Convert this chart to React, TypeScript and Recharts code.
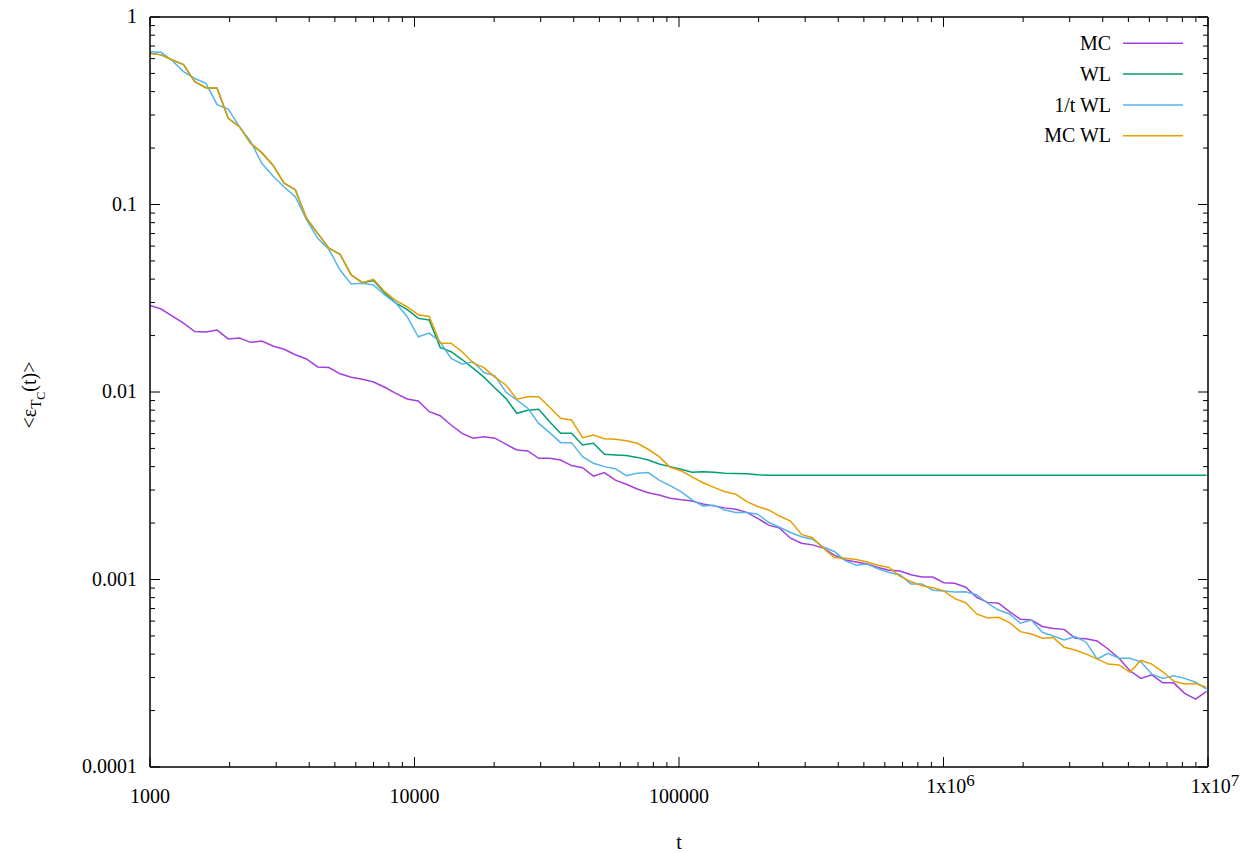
import React from "react";
import { LineChart, Line, XAxis, YAxis } from "recharts";

const tValues = [
  1000, 1102, 1215, 1339, 1476, 1627, 1793, 1976, 2178, 2401,
  2646, 2916, 3214, 3543, 3905, 4304, 4744, 5229, 5763, 6352,
  7002, 7717, 8506, 9375, 10334, 11367, 12504, 13754, 15130, 16643,
  18307, 20138, 22152, 24367, 26804, 29484, 32432, 35675, 39243, 43167,
  47484, 52232, 57455, 63201, 69521, 76473, 84120, 92532, 101785, 111964,
  123160, 135476, 149024, 163926, 180319, 198351, 218186, 240005, 264006, 290406,
  319447, 351392, 386531, 425184, 467702, 514472, 565919, 622511, 684762, 753238,
  828562, 911418, 1002560, 1102816, 1213098, 1334408, 1467849, 1614634, 1776097, 1953707,
  2149078, 2363986, 2600384, 2860423, 3146465, 3461112, 3807223, 4187945, 4606740, 5067414,
  5574155, 6131571, 6744728, 7419201, 8161121, 8977233, 9875000,
];

const mc = [
  0.0289, 0.0277, 0.0254, 0.0233, 0.021, 0.0209, 0.0214, 0.0192, 0.0194, 0.0184,
  0.0187, 0.0176, 0.0169, 0.0158, 0.015, 0.0136, 0.0135, 0.0125, 0.012, 0.0117,
  0.0113, 0.0106, 0.00984, 0.00918, 0.00895, 0.00785, 0.00747, 0.00667, 0.00602, 0.00567,
  0.00578, 0.00567, 0.00527, 0.00491, 0.00485, 0.00443, 0.00443, 0.00434, 0.00405, 0.00395,
  0.00356, 0.00372, 0.00339, 0.00322, 0.00304, 0.0029, 0.00282, 0.00271, 0.00266, 0.00262,
  0.00253, 0.00247, 0.00241, 0.00237, 0.00228, 0.00212, 0.00195, 0.00188, 0.00166, 0.00156,
  0.00153, 0.00147, 0.00135, 0.00127, 0.00124, 0.00121, 0.00116, 0.00112, 0.00111, 0.00106,
  0.00103, 0.00103, 0.000962, 0.000955, 0.00091, 0.000804, 0.000755, 0.000747, 0.000674, 0.000613,
  0.000608, 0.000562, 0.000548, 0.000542, 0.000486, 0.000483, 0.00047, 0.000426, 0.00038, 0.000326,
  0.000297, 0.00031, 0.000281, 0.000281, 0.000247, 0.00023, 0.000253,
];

const wl = [
  0.641, 0.628, 0.59, 0.557, 0.452, 0.42, 0.417, 0.288, 0.26, 0.212,
  0.189, 0.162, 0.13, 0.12, 0.0844, 0.0701, 0.0585, 0.0543, 0.0421, 0.0383,
  0.0393, 0.0337, 0.0298, 0.0276, 0.0247, 0.0242, 0.0173, 0.0164, 0.0149, 0.0134,
  0.012, 0.0105, 0.00925, 0.0077, 0.008, 0.0081, 0.00694, 0.00602, 0.00602, 0.00522,
  0.00533, 0.00466, 0.00462, 0.00458, 0.00448, 0.00434, 0.00413, 0.004, 0.00387, 0.00373,
  0.00376, 0.00373, 0.00369, 0.00368, 0.00366, 0.00362, 0.0036, 0.0036, 0.0036, 0.0036,
  0.0036, 0.0036, 0.0036, 0.0036, 0.0036, 0.0036, 0.0036, 0.0036, 0.0036, 0.0036,
  0.0036, 0.0036, 0.0036, 0.0036, 0.0036, 0.0036, 0.0036, 0.0036, 0.0036, 0.0036,
  0.0036, 0.0036, 0.0036, 0.0036, 0.0036, 0.0036, 0.0036, 0.0036, 0.0036, 0.0036,
  0.0036, 0.0036, 0.0036, 0.0036, 0.0036, 0.0036, 0.0036,
];

const invtWl = [
  0.653, 0.648, 0.585, 0.511, 0.47, 0.443, 0.341, 0.323, 0.26, 0.217,
  0.166, 0.142, 0.124, 0.11, 0.083, 0.066, 0.0577, 0.0447, 0.0377, 0.038,
  0.0372, 0.0329, 0.0297, 0.0253, 0.0197, 0.0206, 0.0185, 0.0151, 0.0141, 0.0145,
  0.0127, 0.0122, 0.01, 0.00907, 0.0082, 0.0068, 0.00607, 0.00537, 0.00537, 0.00452,
  0.00417, 0.004, 0.0039, 0.00358, 0.00369, 0.00372, 0.00339, 0.00317, 0.00294, 0.00266,
  0.00247, 0.00249, 0.00235, 0.00228, 0.00228, 0.00223, 0.00202, 0.0019, 0.00178, 0.00169,
  0.00164, 0.00149, 0.00141, 0.00126, 0.00119, 0.00121, 0.00114, 0.00109, 0.00106, 0.000947,
  0.000947, 0.000877, 0.000867, 0.000857, 0.00086, 0.00083, 0.000747, 0.000687, 0.000655, 0.000585,
  0.000608, 0.000523, 0.0005, 0.000476, 0.000496, 0.000463, 0.000377, 0.000404, 0.00038, 0.00038,
  0.000364, 0.000313, 0.000297, 0.000307, 0.000297, 0.000283, 0.00026,
];

const mcWl = [
  0.641, 0.628, 0.59, 0.557, 0.452, 0.42, 0.417, 0.288, 0.26, 0.212,
  0.189, 0.162, 0.13, 0.12, 0.0844, 0.0701, 0.0585, 0.0543, 0.0421, 0.0383,
  0.0399, 0.0343, 0.0307, 0.0285, 0.0258, 0.0253, 0.0182, 0.0182, 0.0164, 0.0143,
  0.0135, 0.012, 0.0109, 0.00915, 0.00944, 0.00944, 0.00829, 0.00724, 0.00709, 0.00571,
  0.0059, 0.00564, 0.0056, 0.0055, 0.00533, 0.00495, 0.00452, 0.00397, 0.0038, 0.00353,
  0.00328, 0.0031, 0.00294, 0.00285, 0.0026, 0.00245, 0.00235, 0.00218, 0.00205, 0.00174,
  0.00167, 0.00147, 0.00131, 0.0013, 0.00128, 0.00124, 0.00119, 0.00116, 0.00104, 0.000975,
  0.000925, 0.000904, 0.00087, 0.00079, 0.000752, 0.000655, 0.000624, 0.000629, 0.000589, 0.000527,
  0.000512, 0.000486, 0.00049, 0.000435, 0.000421, 0.0004, 0.000377, 0.000354, 0.00035, 0.00032,
  0.00037, 0.000354, 0.000322, 0.000287, 0.000277, 0.000279, 0.000266,
];

const seriesNames = ["MC", "WL", "1/t WL", "MC WL"];
const seriesKeys = ["mc", "wl", "invtWl", "mcWl"];
const seriesColors = ["#a23fdf", "#009e73", "#56b4e9", "#e69f00"];

const xMajor = [1000, 10000, 100000, 1000000, 10000000];
const xMajorLabels = ["1000", "10000", "100000", "1x10^6", "1x10^7"];
const yMajor = [0.0001, 0.001, 0.01, 0.1, 1];
const yMajorLabels = ["0.0001", "0.001", "0.01", "0.1", "1"];
const minorMult = [2, 3, 4, 5, 6, 7, 8, 9];

const xTicks: number[] = [];
xMajor.forEach((m, i) => {
  xTicks.push(m);
  if (i < xMajor.length - 1) minorMult.forEach((k) => xTicks.push(m * k));
});
const yTicks: number[] = [];
yMajor.forEach((m, i) => {
  yTicks.push(m);
  if (i < yMajor.length - 1) minorMult.forEach((k) => yTicks.push(m * k));
});

const data = tValues.map((t, i) => ({
  t,
  mc: mc[i],
  wl: wl[i],
  invtWl: invtWl[i],
  mcWl: mcWl[i],
}));

const CHART_W = 1242;
const CHART_H = 853;
const FONT = "'Liberation Serif', 'Times New Roman', serif";
const FS = 20;

const majorIndex = (arr: number[], v: number) =>
  arr.findIndex((m) => Math.abs(m - v) / m < 1e-6);

const BottomTick = (props: any) => {
  const { x, y, payload } = props;
  const idx = majorIndex(xMajor, payload.value);
  const len = idx >= 0 ? 10 : 5;
  let label: React.ReactNode = null;
  if (idx >= 0) {
    const s = xMajorLabels[idx];
    const p = s.indexOf("^");
    if (p < 0) {
      label = (
        <text x={x} y={y + 36} textAnchor="middle" fontFamily={FONT} fontSize={FS} fill="#000">
          {s}
        </text>
      );
    } else {
      const cx = Math.min(x + 7, CHART_W - 27);
      label = (
        <text x={cx} y={y + 26} textAnchor="middle" fontFamily={FONT} fontSize={FS} fill="#000">
          {s.slice(0, p)}
          <tspan dy={-7} fontSize={17}>
            {s.slice(p + 1)}
          </tspan>
        </text>
      );
    }
  }
  return (
    <g>
      <line x1={x} x2={x} y1={y} y2={y - len} stroke="#000" strokeWidth={1} />
      {label}
    </g>
  );
};

const TopTick = (props: any) => {
  const { x, y, payload } = props;
  const idx = majorIndex(xMajor, payload.value);
  const len = idx >= 0 ? 10 : 5;
  return <line x1={x} x2={x} y1={y} y2={y + len} stroke="#000" strokeWidth={1} />;
};

const LeftTick = (props: any) => {
  const { x, y, payload } = props;
  const idx = majorIndex(yMajor, payload.value);
  const len = idx >= 0 ? 10 : 5;
  return (
    <g>
      <line x1={x} x2={x + len} y1={y} y2={y} stroke="#000" strokeWidth={1} />
      {idx >= 0 && (
        <text x={x - 13} y={y + 6} textAnchor="end" fontFamily={FONT} fontSize={FS} fill="#000">
          {yMajorLabels[idx]}
        </text>
      )}
    </g>
  );
};

const RightTick = (props: any) => {
  const { x, y, payload } = props;
  const idx = majorIndex(yMajor, payload.value);
  const len = idx >= 0 ? 10 : 5;
  return <line x1={x} x2={x - len} y1={y} y2={y} stroke="#000" strokeWidth={1} />;
};

const axisLine = { stroke: "#000", strokeWidth: 1.5 };

export default function App() {
  return (
    <div style={{ position: "relative", width: CHART_W, height: CHART_H, background: "#fff" }}>
      <style>{"html,body{margin:0;padding:0;overflow:hidden;}"}</style>
      <LineChart
        width={CHART_W}
        height={CHART_H}
        data={data}
        margin={{ top: 16, right: 33, bottom: 0, left: 0 }}
      >
        <XAxis
          xAxisId="bottom"
          dataKey="t"
          type="number"
          scale="log"
          domain={[1000, 10000000]}
          allowDataOverflow
          ticks={xTicks}
          interval={0}
          tick={BottomTick}
          tickLine={false}
          tickSize={0}
          tickMargin={0}
          axisLine={axisLine}
          height={86}
        />
        <XAxis
          xAxisId="top"
          orientation="top"
          dataKey="t"
          type="number"
          scale="log"
          domain={[1000, 10000000]}
          allowDataOverflow
          ticks={xTicks}
          interval={0}
          tick={TopTick}
          tickLine={false}
          tickSize={0}
          tickMargin={0}
          axisLine={axisLine}
          height={1}
        />
        <YAxis
          yAxisId="left"
          type="number"
          scale="log"
          domain={[0.0001, 1]}
          allowDataOverflow
          ticks={yTicks}
          interval={0}
          tick={LeftTick}
          tickLine={false}
          tickSize={0}
          tickMargin={0}
          axisLine={axisLine}
          width={150}
        />
        <YAxis
          yAxisId="right"
          orientation="right"
          type="number"
          scale="log"
          domain={[0.0001, 1]}
          allowDataOverflow
          ticks={yTicks}
          interval={0}
          tick={RightTick}
          tickLine={false}
          tickSize={0}
          tickMargin={0}
          axisLine={axisLine}
          width={1}
        />
        {seriesKeys.map((k, i) => (
          <Line
            key={k}
            xAxisId="bottom"
            yAxisId="left"
            dataKey={k}
            name={seriesNames[i]}
            type="linear"
            stroke={seriesColors[i]}
            strokeWidth={1.5}
            dot={false}
            activeDot={false}
            isAnimationActive={false}
          />
        ))}
      </LineChart>
      <svg
        width={CHART_W}
        height={CHART_H}
        style={{ position: "absolute", left: 0, top: 0, pointerEvents: "none" }}
      >
        <text
          transform="translate(36,395) rotate(-90)"
          textAnchor="middle"
          fontFamily={FONT}
          fontSize={FS}
          fill="#000"
        >
          {"<\u03b5"}
          <tspan dy={5} fontSize={15}>T</tspan>
          <tspan dy={4} fontSize={12}>C</tspan>
          <tspan dy={-9} fontSize={FS}>(t)&gt;</tspan>
        </text>
        <text x={679} y={849} textAnchor="middle" fontFamily={FONT} fontSize={FS} fill="#000">
          t
        </text>
        {seriesNames.map((n, i) => (
          <g key={n}>
            <text
              x={1111}
              y={50 + i * 30.8}
              textAnchor="end"
              fontFamily={FONT}
              fontSize={FS}
              fill="#000"
            >
              {n}
            </text>
            <line
              x1={1123}
              x2={1183}
              y1={43.3 + i * 30.8}
              y2={43.3 + i * 30.8}
              stroke={seriesColors[i]}
              strokeWidth={1.5}
            />
          </g>
        ))}
      </svg>
    </div>
  );
}
